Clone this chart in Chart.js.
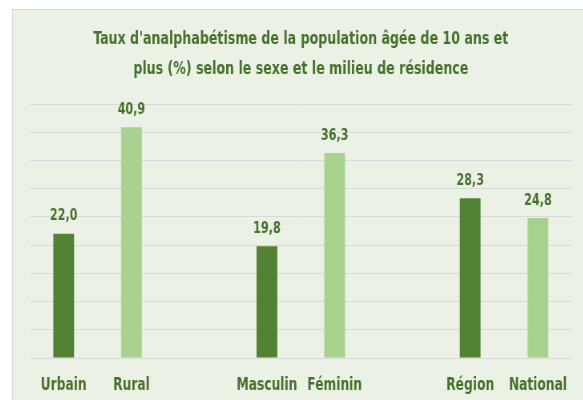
<!DOCTYPE html>
<html lang="fr">
<head>
<meta charset="utf-8">
<script src="https://cdn.jsdelivr.net/npm/chart.js@4"></script>
<style>
  html, body { margin: 0; padding: 0; background: #fff; overflow: hidden; }
  #cadre {
    position: absolute; left: 12px; top: 9px;
    width: 600px; height: 420px;
    background: #ebf1e5; border: 1px solid #d9d9d9;
  }
  /* l'original est resserré horizontalement : on dessine plus large puis on comprime */
  #zone {
    position: absolute; left: 0; top: 0;
    width: 712.5px; height: 390px;
    transform: scaleX(0.8); transform-origin: 0 0;
  }
</style>
</head>
<body>
<div id="cadre"><div id="zone"><canvas id="graphique"></canvas></div></div>
<script>
const titre = [
  "Taux d'analphabétisme de la population âgée de 10 ans et",
  "plus (%) selon le sexe et le milieu de résidence"
]
// les cases vides servent d'espace entre les groupes
const categories = ["Urbain", "Rural", "", "Masculin", "Féminin", "", "Région", "National"]
const valeurs = [22.0, 40.9, null, 19.8, 36.3, null, 28.3, 24.8]
const couleurs = ["#548235", "#a9d18e", null, "#548235", "#a9d18e", null, "#548235", "#a9d18e"]

const vert = "#44722b"
const police = "'DejaVu Sans Condensed', 'Liberation Sans', sans-serif"

const titrePlugin = {
  id: "titre",
  afterDraw(chart) {
    const ctx = chart.ctx
    const milieu = (chart.chartArea.left + chart.chartArea.right) / 2
    ctx.save()
    ctx.fillStyle = vert
    ctx.font = "bold 17.5px " + police
    ctx.textAlign = "center"
    ctx.textBaseline = "middle"
    ctx.fillText(titre[0], milieu, 29.5)
    ctx.fillText(titre[1], milieu, 59.5)
    ctx.restore()
  }
}

const etiquettesPlugin = {
  id: "etiquettes",
  afterDatasetsDraw(chart) {
    const ctx = chart.ctx
    const meta = chart.getDatasetMeta(0)
    ctx.save()
    ctx.fillStyle = vert
    ctx.font = "bold 15.5px " + police
    ctx.textAlign = "center"
    ctx.textBaseline = "alphabetic"
    meta.data.forEach((barre, i) => {
      if (valeurs[i] == null) return
      ctx.fillText(valeurs[i].toFixed(1).replace(".", ","), barre.x, barre.y - 13.5)
    })
    ctx.restore()
  }
}

new Chart(document.getElementById("graphique"), {
  type: "bar",
  data: {
    labels: categories,
    datasets: [{
      data: valeurs,
      backgroundColor: couleurs,
      barPercentage: 0.306,
      categoryPercentage: 1
    }]
  },
  options: {
    responsive: true,
    maintainAspectRatio: false,
    animation: false,
    layout: { padding: { left: 21, right: 15, top: 94, bottom: 0 } },
    plugins: {
      legend: { display: false },
      tooltip: { enabled: false }
    },
    scales: {
      x: {
        grid: { display: false, drawTicks: false },
        border: { display: false },
        ticks: { color: vert, font: { family: police, size: 17, weight: "bold" }, padding: 17, maxRotation: 0, autoSkip: false },
        afterFit: s => { s.height = 42; s.paddingLeft = 0; s.paddingRight = 0 }
      },
      y: {
        min: 0,
        max: 45,
        ticks: { stepSize: 5, display: false },
        grid: { color: "#d9d9d9", drawTicks: false },
        border: { display: false },
        afterFit: s => { s.width = 0 }
      }
    }
  },
  plugins: [titrePlugin, etiquettesPlugin]
})
</script>
</body>
</html>
